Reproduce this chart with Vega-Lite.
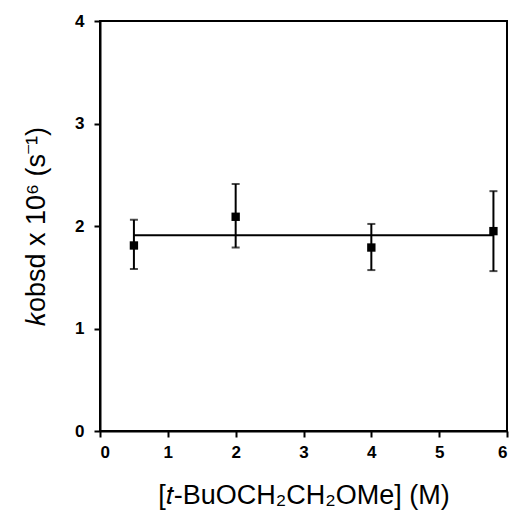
{
  "$schema": "https://vega.github.io/schema/vega-lite/v6.json",
  "width": 407,
  "height": 410,
  "autosize": "none",
  "padding": {"left": 100, "top": 21, "right": 5, "bottom": 92},
  "background": "white",
  "config": {
    "view": {"stroke": "black", "strokeWidth": 2},
    "axis": {
      "grid": false,
      "domainColor": "black",
      "domainWidth": 2,
      "tickColor": "black",
      "tickWidth": 2,
      "labelFont": "Liberation Sans",
      "labelFontSize": 17,
      "labelFontWeight": "bold",
      "labelColor": "black",
      "titleFont": "Liberation Sans",
      "titleFontSize": 27,
      "titleFontWeight": "normal",
      "titleColor": "black"
    }
  },
  "datasets": {
    "pts": [
      {"c": 0.5, "k": 1.81, "lo": 1.58, "hi": 2.06},
      {"c": 2.0, "k": 2.09, "lo": 1.79, "hi": 2.41},
      {"c": 4.0, "k": 1.79, "lo": 1.57, "hi": 2.02},
      {"c": 5.8, "k": 1.95, "lo": 1.56, "hi": 2.34}
    ],
    "fit": [
      {"c": 0.5, "k": 1.91},
      {"c": 5.8, "k": 1.91}
    ]
  },
  "layer": [
    {
      "data": {"name": "fit"},
      "mark": {"type": "line", "color": "black", "strokeWidth": 2},
      "encoding": {
        "x": {
          "field": "c", "type": "quantitative",
          "title": "[𝑡-BuOCH₂CH₂OMe] (M)",
          "scale": {"domain": [0, 6], "nice": false},
          "axis": {
            "values": [0, 0.5, 1, 1.5, 2, 2.5, 3, 3.5, 4, 4.5, 5, 5.5, 6],
            "format": "d",
            "labelExpr": "datum.value % 1 === 0 ? datum.label : ''",
            "tickSize": {"condition": {"test": "datum.value % 1 === 0", "value": 6}, "value": 4},
            "labelPadding": 7,
            "titlePadding": 22
          }
        },
        "y": {
          "field": "k", "type": "quantitative",
          "title": "𝑘obsd x 10⁶ (s⁻¹)",
          "scale": {"domain": [0, 4], "nice": false},
          "axis": {
            "values": [0, 0.5, 1, 1.5, 2, 2.5, 3, 3.5, 4],
            "format": "d",
            "labelExpr": "datum.value % 1 === 0 ? datum.label : ''",
            "tickSize": {"condition": {"test": "datum.value % 1 === 0", "value": 6}, "value": 4},
            "labelPadding": 10,
            "titlePadding": 24
          }
        }
      }
    },
    {
      "data": {"name": "pts"},
      "mark": {"type": "errorbar", "ticks": {"size": 8, "thickness": 2, "color": "black"}, "thickness": 2, "color": "black"},
      "encoding": {
        "x": {"field": "c", "type": "quantitative", "title": "[𝑡-BuOCH₂CH₂OMe] (M)"},
        "y": {"field": "lo", "type": "quantitative", "title": "𝑘obsd x 10⁶ (s⁻¹)"},
        "y2": {"field": "hi"}
      }
    },
    {
      "data": {"name": "pts"},
      "mark": {"type": "square", "color": "black", "filled": true, "opacity": 1, "size": 70},
      "encoding": {
        "x": {"field": "c", "type": "quantitative", "title": "[𝑡-BuOCH₂CH₂OMe] (M)"},
        "y": {"field": "k", "type": "quantitative", "title": "𝑘obsd x 10⁶ (s⁻¹)"}
      }
    }
  ]
}
